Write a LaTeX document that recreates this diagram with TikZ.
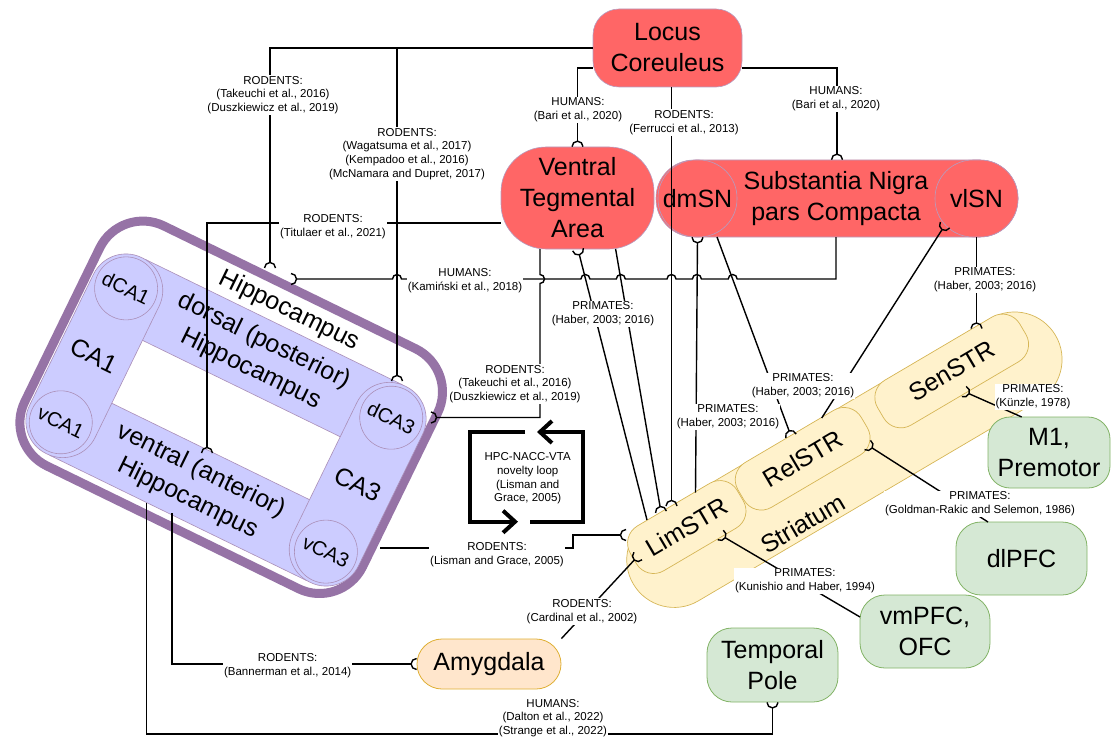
\documentclass[tikz,border=0pt]{standalone}
\usepackage{fontspec}
\setmainfont{Liberation Sans}
\usetikzlibrary{arrows.meta}
\definecolor{redfill}{HTML}{FF6666}
\definecolor{lav}{HTML}{CCCCFF}
\definecolor{purp}{HTML}{9673A6}
\definecolor{yelfill}{HTML}{FFF2CC}
\definecolor{yelline}{HTML}{D6B656}
\definecolor{grnfill}{HTML}{D5E8D4}
\definecolor{grnline}{HTML}{82B366}
\definecolor{orgfill}{HTML}{FFE6CC}
\definecolor{orgline}{HTML}{D79B00}
\newcommand\bigtxt{\fontsize{25}{31}\selectfont}
\newcommand\midtxt{\fontsize{20}{24}\selectfont}
\newcommand\labtxt{\fontsize{11.5}{13.7}\selectfont}
% half-circle socket: its open side faces the target, the line meets its apex
\pgfdeclarearrow{
  name = Socket,
  parameters = {\the\pgfarrowlength},
  setup code = {
    \pgfarrowssettipend{0pt}
    \pgfarrowssetlineend{-\pgfarrowlength}
    \pgfarrowssetbackend{-\pgfarrowlength}
    \pgfarrowssavethe\pgfarrowlength
  },
  drawing code = {
    \pgfpathmoveto{\pgfqpoint{0pt}{\pgfarrowlength}}
    \pgfpatharc{90}{270}{\pgfarrowlength}
    \pgfusepathqstroke
  },
  defaults = {length = 6pt}
}
\begin{document}
\begin{tikzpicture}[x=1pt,y=-1pt,
  every node/.style={inner sep=0pt, align=center},
  redbox/.style={draw=purp!70, line width=0.6pt, fill=redfill, font=\bigtxt},
  grnbox/.style={draw=grnline, line width=0.8pt, fill=grnfill, font=\bigtxt},
  orgbox/.style={draw=orgline!80, line width=0.8pt, fill=orgfill, font=\bigtxt},
  strbody/.style={draw=yelline, line width=0.7pt, fill=yelfill},
  strpart/.style={draw=yelline, line width=0.7pt, fill=yelfill, font=\bigtxt, minimum height=52pt, rounded corners=20pt},
  hpcring/.style={draw=purp, line width=9pt, fill=white},
  hpcband/.style={draw=purp!80, line width=0.6pt, fill=lav, font=\bigtxt},
  hpcpole/.style={circle, draw=purp!80, line width=0.6pt, fill=lav, minimum size=63pt, font=\midtxt},
  conn/.style={line width=1.4pt},
  sock/.style={conn, -{Socket[length=5.5pt]}},
  lab/.style={fill=white, inner sep=1pt, font=\labtxt},
  loopline/.style={line width=4pt, line join=miter, -{Straight Barb[length=12pt, width=22pt]}},
]
\useasboundingbox (0,0) rectangle (1115,738);

% ---------- hippocampus ----------
\begin{scope}[shift={(226,420)}, rotate=-26, transform shape]
  \node[hpcring, minimum width=376pt, minimum height=267pt, rounded corners=48pt] (hpc) at (-0.9,-13.7) {};
  \node[font=\bigtxt] (hpcname) at (9,-126) {Hippocampus};
  \node[hpcband, minimum width=300pt, minimum height=74pt, rounded corners=8pt] (dhpc) at (0,-72) {dorsal (posterior)\\Hippocampus};
  \node[hpcband, minimum width=300pt, minimum height=74pt, rounded corners=8pt] (vhpc) at (0,72) {ventral (anterior)\\Hippocampus};
  \node[hpcband, minimum width=73pt, minimum height=218pt, rounded corners=36pt] (ca1) at (-146.5,0) {CA1};
  \node[hpcband, minimum width=73pt, minimum height=218pt, rounded corners=36pt] (ca3) at (146.5,0) {CA3};
  \node[hpcpole] (dca1) at (-147.5,-74.5) {dCA1};
  \node[hpcpole] (vca1) at (-147.5,74.5) {vCA1};
  \node[hpcpole] (dca3) at (147.5,-74.5) {dCA3};
  \node[hpcpole] (vca3) at (147.5,74.5) {vCA3};
\end{scope}

% ---------- midbrain and brainstem ----------
\node[redbox, minimum width=149pt, minimum height=78pt, rounded corners=26pt] (lc) at (667.5,48) {Locus\\Coreuleus};
\node[redbox, minimum width=153pt, minimum height=102pt, rounded corners=45pt] (vta) at (577.5,198) {Ventral\\Tegmental\\Area};
\node[redbox, minimum width=362pt, minimum height=77pt, rounded corners=38pt] (snc) at (837,198.5) {};
\node[redbox, minimum width=79pt, minimum height=77pt, rounded corners=38pt] (dmsn) at (697.5,198.5) {dmSN};
\node[redbox, minimum width=83pt, minimum height=77pt, rounded corners=38pt] (vlsn) at (976.5,198.5) {vlSN};
\node[font=\bigtxt] (sncname) at (836,199) {Substantia Nigra\\pars Compacta};

% ---------- striatum ----------
\begin{scope}[shift={(844.4,459.7)}, rotate=30.5, transform shape]
  \node[strbody, minimum width=490pt, minimum height=95pt, rounded corners=47.5pt] (str) at (0,0) {};
  \node[strpart, minimum width=124pt] (lim) at (-170,-22) {LimSTR};
  \node[strpart, minimum width=143pt] (rel) at (-35.5,-22) {RelSTR};
  \node[strpart, minimum width=165pt] (sen) at (137.5,-22) {SenSTR};
  \node[font=\bigtxt] (strname) at (-68,34) {Striatum};
\end{scope}

% ---------- cortex and amygdala ----------
\node[grnbox, minimum width=122pt, minimum height=71pt, rounded corners=22pt] (m1) at (1049,452.5) {M1,\\Premotor};
\node[grnbox, minimum width=131pt, minimum height=73pt, rounded corners=25pt] (dlpfc) at (1021.5,558.5) {dlPFC};
\node[grnbox, minimum width=130pt, minimum height=73pt, rounded corners=25pt] (vmpfc) at (925,631.5) {vmPFC,\\OFC};
\node[grnbox, minimum width=131pt, minimum height=74pt, rounded corners=25pt] (tp) at (772.5,665) {Temporal\\Pole};
\node[orgbox, minimum width=144pt, minimum height=50pt, rounded corners=25pt] (amy) at (489,664) {Amygdala};

% ---------- attachment points ----------
\coordinate (hpcA) at (270,268);
\coordinate (dca3T) at (397,381);
\coordinate (dca3R) at (431,417.5);
\coordinate (hpcT) at (207,453);
\coordinate (hpcK) at (291,279);
\coordinate (hpcL) at (380,548);
\coordinate (hpcB) at (172,513);
\coordinate (hpcD) at (146.7,503);
\coordinate (vtaBL) at (540,249);
\coordinate (vtaA) at (578,249.5);
\coordinate (vtaB) at (615.6,249);
\coordinate (sncE) at (717,237);
\coordinate (sncK) at (836,237);
\coordinate (vlF) at (945,225);
\coordinate (limA) at (647,520);
\coordinate (limB) at (661,512);
\coordinate (limC) at (671.5,506);
\coordinate (limD) at (695.5,492.5);
\coordinate (limL) at (626,535);
\coordinate (limCard) at (638,556);
\coordinate (limKun) at (720.5,535);
\coordinate (relE) at (791,436);
\coordinate (relF) at (821.7,418);
\coordinate (relGold) at (867.5,445);
\coordinate (senG) at (976.5,328.5);
\coordinate (senKun) at (964,391.5);
\coordinate (m1Kun) at (1021.7,417);
\coordinate (dlGold) at (988,522);
\coordinate (vmKun) at (860,617);

% ---------- connectors ----------
\draw[sock] (lc.west) -| (hpcA);
\draw[sock] (lc.west) -| (dca3T);
\draw[sock] ([yshift=-20pt]lc.west) -| (vta.north);
\draw[sock] (lc.south -| limC) -- (limC);
\draw[sock] ([yshift=-20pt]lc.east) -| (snc.north);
\draw[sock] ([yshift=-25pt]vta.west) -| (hpcT);
\draw[sock] (vtaBL) -- (540,274.5) arc[start angle=90, end angle=-90, radius=4.5pt] -- (540,417.5) -- (dca3R);
\draw[sock] (limA) -- (vtaA);
\draw[sock] (vtaB) -- (limB);
\draw[sock] (limD) -- (dmsn.south);
\draw[sock] (sncE) -- (relE);
\draw[sock] (relF) -- (vlF);
\draw[sock] (vlsn.south) -- (senG);
\draw[sock] (sncK) -- (836,279) -- (737.2,279)
  arc[start angle=0, end angle=180, radius=4.5pt] -- (701.4,279)
  arc[start angle=0, end angle=180, radius=4.5pt] -- (676,279)
  arc[start angle=0, end angle=180, radius=4.5pt] -- (625.3,279)
  arc[start angle=0, end angle=180, radius=4.5pt] -- (589.9,279)
  arc[start angle=0, end angle=180, radius=4.5pt] -- (401.5,279)
  arc[start angle=0, end angle=180, radius=4.5pt] -- (hpcK);
\draw[sock] (hpcL) -- (573,548) -- (573,535) -- (limL);
\draw[sock] (amy.north east) -- (limCard);
\draw[sock] (vmKun) -- (limKun);
\draw[sock] (dlGold) -- (relGold);
\draw[sock] (m1Kun) -- (senKun);
\draw[sock] (hpcB) |- (amy.west);
\draw[sock] (hpcD) -- (146.7,734) -| (tp.south);

% ---------- connector labels ----------
\node[lab] (l1) at (273,95) {RODENTS:\\(Takeuchi et al., 2016)\\(Duszkiewicz et al., 2019)};
\node[lab] (l2) at (407,154) {RODENTS:\\(Wagatsuma et al., 2017)\\(Kempadoo et al., 2016)\\(McNamara and Dupret, 2017)};
\node[lab] (l3) at (333,227) {RODENTS:\\(Titulaer et al., 2021)};
\node[lab] (l4) at (465,280.5) {HUMANS:\\(Kamiński et al., 2018)};
\node[lab] (l5) at (578,110) {HUMANS:\\(Bari et al., 2020)};
\node[lab] (l6) at (684,122.5) {RODENTS:\\(Ferrucci et al., 2013)};
\node[lab] (l7) at (836,99) {HUMANS:\\(Bari et al., 2020)};
\node[lab] (l8) at (603,314) {PRIMATES:\\(Haber, 2003; 2016)};
\node[lab] (l9) at (728,417) {PRIMATES:\\(Haber, 2003; 2016)};
\node[lab] (l10) at (803,386) {PRIMATES:\\(Haber, 2003; 2016)};
\node[lab] (l11) at (985,280) {PRIMATES:\\(Haber, 2003; 2016)};
\node[lab] (l12) at (1033,397) {PRIMATES:\\(Künzle, 1978)};
\node[lab] (l13) at (980,504) {PRIMATES:\\(Goldman-Rakic and Selemon, 1986)};
\node[lab] (l14) at (805,581) {PRIMATES:\\(Kunishio and Haber, 1994)};
\node[lab] (l15) at (515,384) {RODENTS:\\(Takeuchi et al., 2016)\\(Duszkiewicz et al., 2019)};
\node[lab] (l16) at (497,554.5) {RODENTS:\\(Lisman and Grace, 2005)};
\node[lab] (l17) at (582,611.5) {RODENTS:\\(Cardinal et al., 2002)};
\node[lab] (l18) at (287.7,665.7) {RODENTS:\\(Bannerman et al., 2014)};
\node[lab] (l19) at (553,718) {HUMANS:\\(Dalton et al., 2022)\\(Strange et al., 2022)};

% ---------- novelty loop ----------
\node[font=\labtxt] (loop) at (527.7,478.5) {HPC-NACC-VTA\\novelty loop\\(Lisman and\\Grace, 2005)};
\draw[loopline] (525,432) -- (470,432) -- (470,521.7) -- (518,521.7);
\draw[loopline] (530,521.7) -- (582.7,521.7) -- (582.7,432) -- (537,432);
\end{tikzpicture}
\end{document}
